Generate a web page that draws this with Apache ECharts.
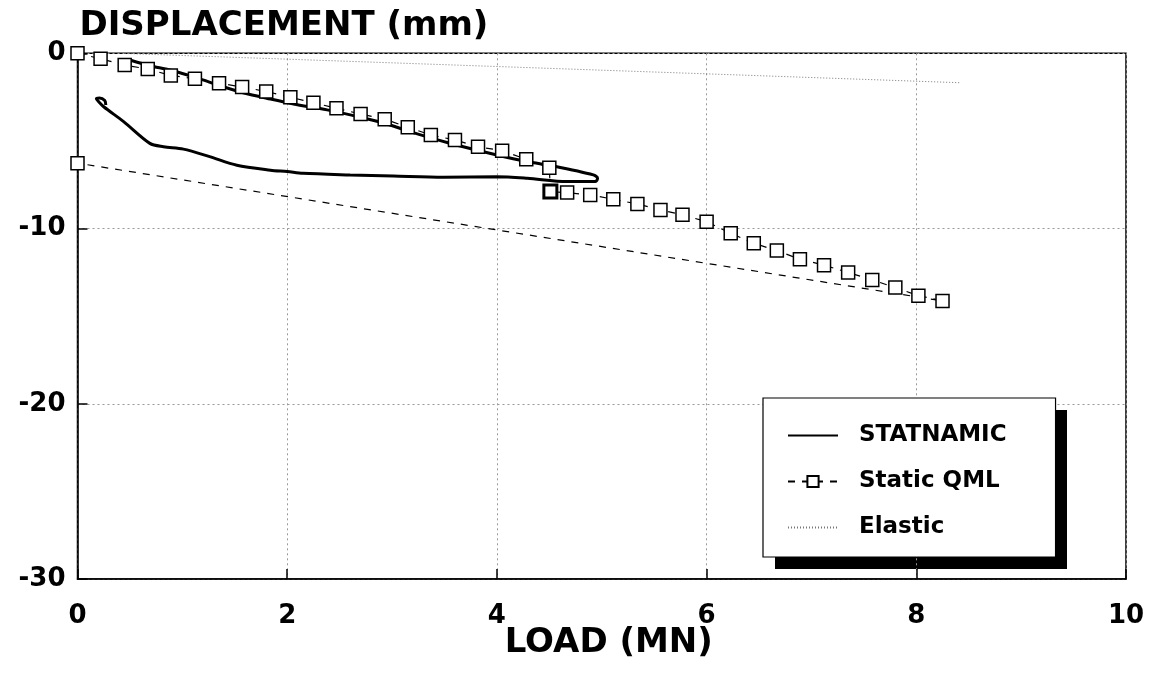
<!DOCTYPE html>
<html>
<head>
<meta charset="utf-8">
<script src="https://cdn.jsdelivr.net/npm/echarts@6/dist/echarts.min.js"></script>
<style>
html,body{margin:0;padding:0;background:#fff;}
#chart{width:1149px;height:685px;}
</style>
</head>
<body>
<div id="chart"></div>
<script>
// STATNAMIC test (load MN, displacement mm)
var statLoad = [0.50, 0.69, 0.88, 1.14, 1.36, 1.58, 1.84, 2.06, 2.38, 2.70, 2.93, 3.17, 3.55, 4.00, 4.29, 4.54, 4.92, 4.96, 4.94, 4.67, 4.29, 4.00, 3.49, 3.01, 2.60, 2.15, 2.00, 1.84, 1.52, 1.26, 1.01, 0.82, 0.69, 0.44, 0.25, 0.20, 0.18, 0.21, 0.26, 0.27];
var statDisp = [-0.38, -0.71, -0.95, -1.40, -1.85, -2.25, -2.61, -2.89, -3.23, -3.65, -3.99, -4.47, -5.13, -5.80, -6.18, -6.43, -6.94, -7.13, -7.32, -7.32, -7.13, -7.04, -7.07, -7.00, -6.94, -6.85, -6.75, -6.67, -6.39, -5.90, -5.47, -5.33, -5.14, -3.90, -3.05, -2.75, -2.60, -2.55, -2.70, -2.95];

// Static quick maintained load test
var qmlLoad = [0, 0.22, 0.45, 0.67, 0.89, 1.12, 1.35, 1.57, 1.80, 2.03, 2.25, 2.47, 2.70, 2.93, 3.15, 3.37, 3.60, 3.82, 4.05, 4.28, 4.50, 4.51, 4.67, 4.89, 5.11, 5.34, 5.56, 5.77, 6.00, 6.23, 6.45, 6.67, 6.89, 7.12, 7.35, 7.58, 7.80, 8.02, 8.25, 0];
var qmlDisp = [0, -0.31, -0.67, -0.90, -1.26, -1.45, -1.71, -1.92, -2.18, -2.51, -2.82, -3.14, -3.46, -3.76, -4.22, -4.66, -4.95, -5.33, -5.56, -6.05, -6.53, -7.89, -7.95, -8.08, -8.33, -8.60, -8.94, -9.22, -9.61, -10.27, -10.84, -11.26, -11.75, -12.09, -12.51, -12.93, -13.37, -13.83, -14.13, -6.27];

// Elastic line
var elasticLoad = [0.45, 8.42];
var elasticDisp = [-0.01, -1.68];

var xTicks = [0, 2, 4, 6, 8, 10];
var yTicks = [0, -10, -20, -30];

function pairs(xs, ys) { return xs.map(function (x, i) { return [x, ys[i]]; }); }

var FONT = 'DejaVu Sans';
var chart = echarts.init(document.getElementById('chart'), null, { renderer: 'canvas' });

var qmlData = pairs(qmlLoad, qmlDisp).map(function (p, i) {
  // the creep point at 4.5 MN is drawn heavier in the original
  return i === 21 ? { value: p, itemStyle: { borderWidth: 3 } } : p;
});

chart.setOption({
  backgroundColor: '#fff',
  animation: false,
  grid: {
    left: 77.5, right: 23, top: 53.3, bottom: 106,
    show: true, borderColor: '#000', borderWidth: 1.5, backgroundColor: 'transparent'
  },
  xAxis: {
    type: 'value', min: xTicks[0], max: xTicks[xTicks.length - 1], interval: 2,
    name: 'LOAD (MN)', nameLocation: 'middle', nameGap: 47, nameMoveOverlap: false,
    nameTextStyle: { fontFamily: FONT, fontWeight: 'bold', fontSize: 34, color: '#000', padding: [0, 0, 0, 14] },
    axisLine: { onZero: false, lineStyle: { color: '#000', width: 1.5 } },
    axisTick: { show: true, inside: true, length: 10, lineStyle: { color: '#000', width: 1.5 } },
    axisLabel: { fontFamily: FONT, fontWeight: 'bold', fontSize: 26, color: '#000', margin: 24 },
    splitLine: { show: true, lineStyle: { color: '#999', type: [2, 3], width: 1 } }
  },
  yAxis: {
    type: 'value', min: yTicks[yTicks.length - 1], max: yTicks[0], interval: 10,
    name: 'DISPLACEMENT (mm)', nameLocation: 'end', nameGap: 27, nameMoveOverlap: false,
    nameTextStyle: { fontFamily: FONT, fontWeight: 'bold', fontSize: 34, color: '#000', align: 'left', verticalAlign: 'middle', padding: [0, 0, 0, 2] },
    axisLine: { onZero: false, lineStyle: { color: '#000', width: 1.5 } },
    axisTick: { show: true, inside: true, length: 10, lineStyle: { color: '#000', width: 1.5 } },
    axisLabel: { fontFamily: FONT, fontWeight: 'bold', fontSize: 26, color: '#000', margin: 12 },
    splitLine: { show: true, lineStyle: { color: '#999', type: [2, 3], width: 1 } }
  },
  graphic: [{
    type: 'rect', z: 0, left: 775, top: 410,
    shape: { width: 292, height: 159 },
    style: { fill: '#000' }
  }],
  legend: {
    orient: 'vertical', left: 763, top: 398, z: 10,
    padding: [26, 49, 18, 24], itemGap: 23,
    itemWidth: 50, itemHeight: 14,
    backgroundColor: '#fff', borderColor: '#000', borderWidth: 1.2,
    textStyle: { fontFamily: FONT, fontWeight: 'bold', fontSize: 23, color: '#000', padding: [0, 0, 0, 16] },
    data: [
      { name: 'STATNAMIC', itemStyle: { opacity: 0 } },
      { name: 'Static QML' },
      { name: 'Elastic', itemStyle: { opacity: 0 } }
    ]
  },
  series: [
    {
      name: 'STATNAMIC', type: 'line', data: pairs(statLoad, statDisp),
      showSymbol: false, symbol: 'none', smooth: 0.3,
      lineStyle: { color: '#000', width: 3 }, itemStyle: { color: '#000' }, z: 3
    },
    {
      name: 'Static QML', type: 'line', data: qmlData,
      symbol: 'rect', symbolSize: 13, showSymbol: true,
      lineStyle: { color: '#000', width: 1.2, type: [7, 7] },
      itemStyle: { color: '#fff', borderColor: '#000', borderWidth: 1.5 }, z: 4
    },
    {
      name: 'Elastic', type: 'line', data: pairs(elasticLoad, elasticDisp),
      symbol: 'none', showSymbol: false,
      lineStyle: { color: '#777', width: 1, type: [1, 2] }, itemStyle: { color: '#777' }, z: 2
    }
  ]
});
</script>
</body>
</html>
